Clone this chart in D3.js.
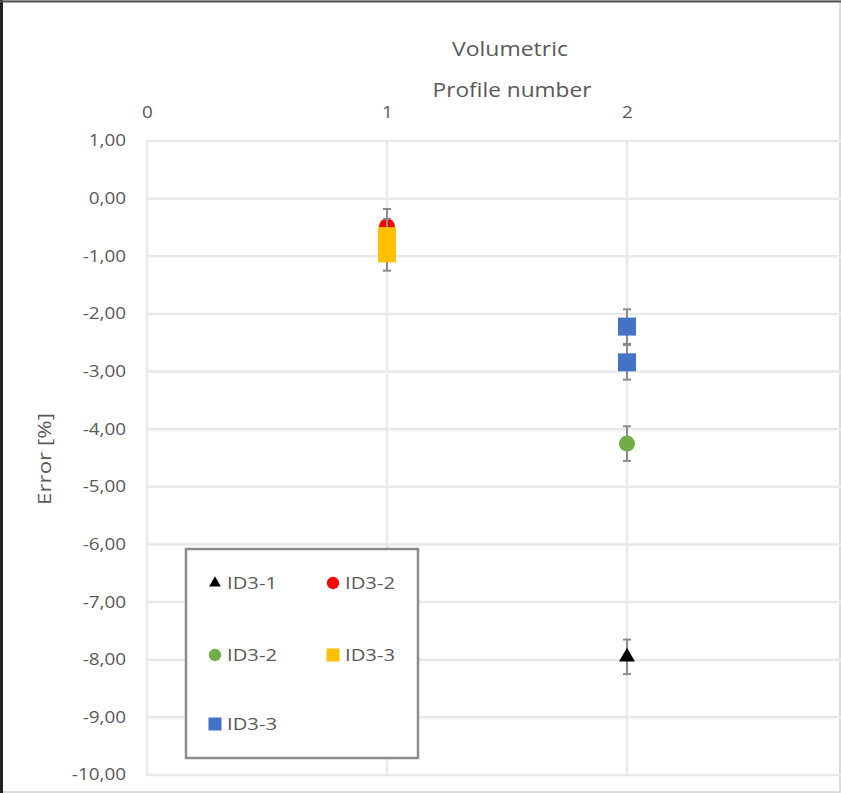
<!DOCTYPE html>
<html>
<head>
<meta charset="utf-8">
<script src="https://cdn.jsdelivr.net/npm/d3@7"></script>
<style>
  html, body { margin: 0; padding: 0; background: #fff; }
  svg { display: block; }
  text { font-family: "Open Sans", "Noto Sans", sans-serif; fill: #595959; }
</style>
</head>
<body>
<script>
// Profile positions and error values per series
const seriesNames  = ["ID3-1", "ID3-2", "ID3-2", "ID3-3", "ID3-3"];
const seriesColors = ["#000000", "#ff0000", "#70ad47", "#ffc000", "#4472c4"];
const seriesShapes = ["triangle", "circle", "circle", "square", "square"];
const seriesX      = [[2], [1], [2], [1, 1], [2, 2]];
const seriesY      = [[-7.95], [-0.48], [-4.25], [-0.65, -0.95], [-2.22, -2.84]];
const errorSize    = 0.3;

const xTicks = [0, 1, 2];
const yTicks = [1, 0, -1, -2, -3, -4, -5, -6, -7, -8, -9, -10];

const W = 841, H = 793;
const plot = { left: 146, right: 841, top: 141, bottom: 775 };
const WIDE = 1.22; // horizontal stretch applied to the chart's lettering

const svg = d3.select("body").append("svg").attr("width", W).attr("height", H);

// outer frame
svg.append("rect").attr("x", 0.5).attr("y", 0.5).attr("width", W - 1.5).attr("height", H - 1.5)
  .attr("fill", "#fff").attr("stroke", "#d0d0d0").attr("stroke-width", 1.5);
svg.append("line").attr("x1", 1.5).attr("x2", 1.5).attr("y1", 0).attr("y2", H).attr("stroke", "#222").attr("stroke-width", 3);
svg.append("line").attr("x1", 0).attr("x2", W).attr("y1", 1.5).attr("y2", 1.5).attr("stroke", "#555").attr("stroke-width", 2);

const x = d3.scaleLinear().domain([0, 3]).range([147, 867]);
const y = d3.scaleLinear().domain([-10, 1]).range([plot.bottom, plot.top]);

const g = svg.append("g");

// gridlines
g.selectAll("line.hgrid").data(yTicks).join("line").attr("class", "hgrid")
  .attr("x1", plot.left).attr("x2", plot.right)
  .attr("y1", d => y(d)).attr("y2", d => y(d))
  .attr("stroke", "#e9e9e9").attr("stroke-width", 2.5);
g.selectAll("line.vgrid").data(xTicks).join("line").attr("class", "vgrid")
  .attr("x1", d => x(d)).attr("x2", d => x(d))
  .attr("y1", plot.top).attr("y2", plot.bottom)
  .attr("stroke", "#e9e9e9").attr("stroke-width", 2.5);

// y axis tick labels
const yAxis = d3.axisLeft(y).tickValues(yTicks).tickSize(0).tickPadding(0)
  .tickFormat(d => d3.format(".2f")(d).replace(".", ",").replace("−", "-"));
const yg = svg.append("g").attr("transform", "translate(126,0)").call(yAxis);
yg.select(".domain").remove();
yg.selectAll("text").attr("font-size", 15.5).attr("fill", "#595959")
  .style("font-family", "'Open Sans', sans-serif")
  .attr("transform", `scale(${WIDE},1)`);

// top x axis tick labels
const xAxis = d3.axisTop(x).tickValues(xTicks).tickSize(0).tickPadding(0).tickFormat(d3.format("d"));
const xg = svg.append("g").attr("transform", "translate(0,118)").call(xAxis);
xg.select(".domain").remove();
xg.selectAll(".tick text").attr("font-size", 15.5).attr("fill", "#595959")
  .style("font-family", "'Open Sans', sans-serif")
  .attr("transform", `scale(${WIDE},1)`);

// titles
svg.append("text").attr("x", 510).attr("y", 56).attr("text-anchor", "middle")
  .attr("font-size", 20).attr("textLength", 116).attr("lengthAdjust", "spacingAndGlyphs")
  .text("Volumetric");
svg.append("text").attr("x", 512).attr("y", 97).attr("text-anchor", "middle")
  .attr("font-size", 20).attr("textLength", 159).attr("lengthAdjust", "spacingAndGlyphs")
  .text("Profile number");
svg.append("text").attr("transform", "translate(51,459) rotate(-90)").attr("text-anchor", "middle")
  .attr("font-size", 17.5).attr("textLength", 92).attr("lengthAdjust", "spacingAndGlyphs")
  .text("Error [%]");

// marker shapes
function symbolFor(shape, size) {
  const t = shape === "triangle" ? d3.symbolTriangle : shape === "circle" ? d3.symbolCircle : d3.symbolSquare;
  return d3.symbol().type(t).size(size)();
}
const markerArea = { triangle: 110, circle: 200, square: 324 };
const legendArea = { triangle: 60, circle: 120, square: 170 };

// error bars and markers
seriesNames.forEach((name, i) => {
  const pts = seriesX[i].map((xv, j) => ({ x: xv, y: seriesY[i][j] }));
  const s = g.append("g");
  pts.forEach(p => {
    const cx = x(p.x), yt = y(p.y + errorSize), yb = y(p.y - errorSize);
    s.append("line").attr("x1", cx).attr("x2", cx).attr("y1", yt).attr("y2", yb)
      .attr("stroke", "#8c8c8c").attr("stroke-width", 2);
    [yt, yb].forEach(yy => s.append("line").attr("x1", cx - 4).attr("x2", cx + 4)
      .attr("y1", yy).attr("y2", yy).attr("stroke", "#8c8c8c").attr("stroke-width", 2));
  });
  s.selectAll("path").data(pts).join("path")
    .attr("transform", p => `translate(${x(p.x)},${y(p.y)})`)
    .attr("d", symbolFor(seriesShapes[i], markerArea[seriesShapes[i]]))
    .attr("fill", seriesColors[i]);
});

// legend
const lg = svg.append("g");
lg.append("rect").attr("x", 186).attr("y", 549).attr("width", 232).attr("height", 209)
  .attr("fill", "#fff").attr("stroke", "#8c8c8c").attr("stroke-width", 2.5);
const legendPos = [[215, 583], [333, 583], [215, 655], [333, 655], [215, 724]];
seriesNames.forEach((name, i) => {
  const [lx, ly] = legendPos[i];
  lg.append("path").attr("transform", `translate(${lx},${ly})`)
    .attr("d", symbolFor(seriesShapes[i], legendArea[seriesShapes[i]]))
    .attr("fill", seriesColors[i]);
  lg.append("text").attr("x", lx + 12).attr("y", ly + 6).attr("font-size", 16.5)
    .attr("textLength", 50).attr("lengthAdjust", "spacingAndGlyphs").text(name);
});
</script>
</body>
</html>
